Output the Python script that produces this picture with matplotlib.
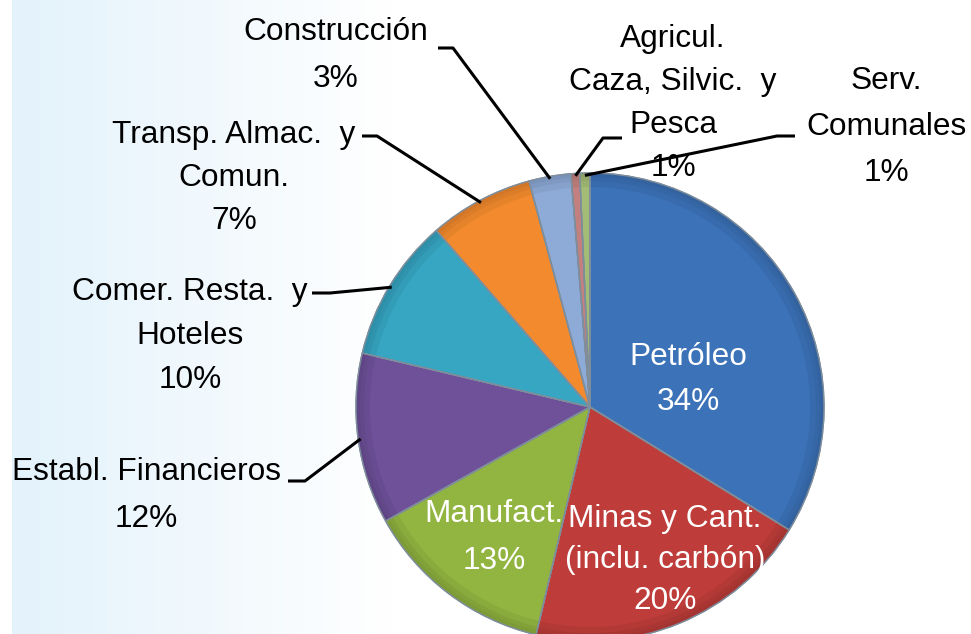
import numpy as np
import matplotlib
matplotlib.use("Agg")
import matplotlib.pyplot as plt
from matplotlib.patches import Wedge
from matplotlib.colors import to_rgb

# ---- data ----
categories = [
    "Petróleo",
    "Minas y Cant.\n(inclu. carbón)",
    "Manufact.",
    "Establ. Financieros",
    "Comer. Resta.  y\nHoteles",
    "Transp. Almac.  y\nComun.",
    "Construcción",
    "Agricul.\nCaza, Silvic.  y\nPesca",
    "Serv.\nComunales",
]
shares = [33.8, 19.9, 13.2, 11.8, 9.9, 7.2, 2.9, 0.6, 0.7]
pct_labels = ["34%", "20%", "13%", "12%", "10%", "7%", "3%", "1%", "1%"]

colors = ["#3C72B8", "#BE3D3A", "#92B440", "#6F519A", "#36A6C3",
          "#F38B2E", "#8EABD8", "#C4807E", "#A3BC76"]

# ---- layout (pixel coordinates of the 971x634 canvas, y downwards) ----
W, H = 971, 634
center = (590, 407)
radius = 234
# label: (x centre, first baseline, line step, colour)
label_pos = [
    (688, 365, 45, "white"),
    (665, 527, 41, "white"),
    (494, 522, 47, "white"),
    (146, 480, 47, "black"),
    (190, 300, 44, "black"),
    (234, 143, 43, "black"),
    (336, 40, 47, "black"),
    (673, 47, 43, "black"),
    (886, 89, 46, "black"),
]
# leader lines: (text end, elbow) ; None for inside labels
leaders = [None, None, None,
           [(288, 481), (305, 481)],
           [(312, 293), (330, 293)],
           [(362, 136), (377, 136)],
           [(438, 48), (453, 48)],
           [(622, 138), (603, 138)],
           [(795, 136), (777, 136)]]

plt.rcParams["font.family"] = ["Liberation Sans", "DejaVu Sans"]

fig = plt.figure(figsize=(W / 100, H / 100), dpi=100)
ax = fig.add_axes([0, 0, 1, 1])

# background: light blue fading to white from the left
xs = np.arange(W)
t = np.clip((xs - 12) / 380.0, 0, 1)
base = np.array([0.89, 0.95, 0.985])
row = base[None, :] * (1 - t[:, None]) + np.ones(3)[None, :] * t[:, None]
row[xs < 12] = 1.0
bg = np.repeat(row[None, :, :], H, axis=0)
ax.imshow(bg, extent=(0, W, H, 0), aspect="auto", zorder=0)

wedges, _ = ax.pie(shares, colors=colors, startangle=-90, counterclock=True,
                   center=center, radius=radius,
                   wedgeprops=dict(edgecolor="#7F8E9C", linewidth=1.0))
for w in wedges:
    w.set_zorder(2)

# soft darker rim for the bevelled look
for w, c in zip(wedges, colors):
    rgb = np.array(to_rgb(c))
    for width, k in [(14, 0.08), (8, 0.12), (4, 0.15)]:
        ax.add_patch(Wedge(center, radius, w.theta1, w.theta2, width=width,
                           facecolor=tuple(rgb * (1 - k)), edgecolor="none",
                           alpha=0.7, zorder=2.5))
    ax.add_patch(Wedge(center, radius, w.theta1, w.theta2, fill=False,
                       edgecolor="#7F8E9C", linewidth=1.0, zorder=2.6))

ax.set_xlim(0, W)
ax.set_ylim(H, 0)
ax.set_aspect("auto")
ax.axis("off")

for i, (cat, pct) in enumerate(zip(categories, pct_labels)):
    x, y0, dy, col = label_pos[i]
    lines = cat.split("\n") + [pct]
    for j, ln in enumerate(lines):
        ax.text(x, y0 + j * dy, ln, ha="center", va="baseline",
                fontsize=22.8, color=col, zorder=5)
    if leaders[i] is not None:
        w = wedges[i]
        mid = np.deg2rad((w.theta1 + w.theta2) / 2)
        px = center[0] + radius * 0.99 * np.cos(mid)
        py = center[1] + radius * 0.99 * np.sin(mid)
        (x1, y1), (x2, y2) = leaders[i]
        ax.plot([x1, x2, px], [y1, y2, py], color="black", lw=2.2,
                solid_capstyle="butt", zorder=4)

fig.savefig("out.png", dpi=100)
